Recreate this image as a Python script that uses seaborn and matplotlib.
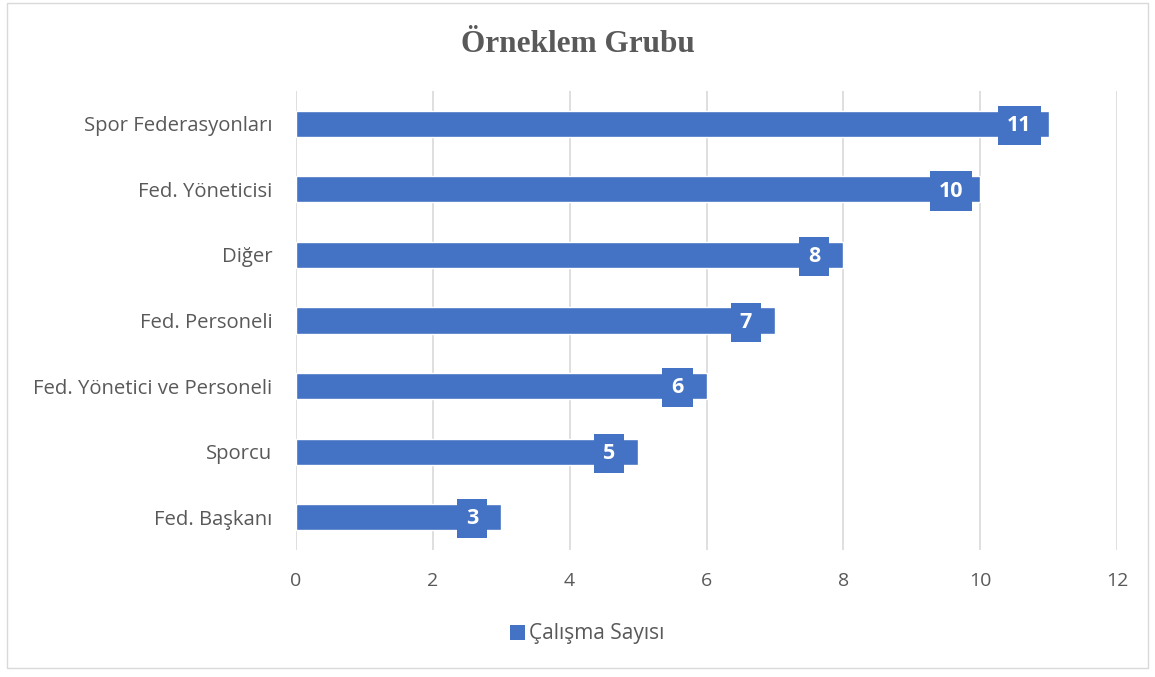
import matplotlib
matplotlib.use("Agg")
import matplotlib.pyplot as plt
import seaborn as sns
import pandas as pd
from matplotlib.patches import Patch, Rectangle

# Chart values
categories = ["Spor Federasyonları", "Fed. Yöneticisi", "Diğer", "Fed. Personeli",
              "Fed. Yönetici ve Personeli", "Sporcu", "Fed. Başkanı"]
counts = [11, 10, 8, 7, 6, 5, 3]
x_ticks = [0, 2, 4, 6, 8, 10, 12]

title = "Örneklem Grubu"
series_name = "Çalışma Sayısı"

BAR_COLOR = "#4472C4"
TEXT_GRAY = "#595959"
GRID_GRAY = "#D9D9D9"

sns.set_theme(style="white")
plt.rcParams["font.family"] = ["Open Sans", "DejaVu Sans"]

df = pd.DataFrame({"category": categories, "count": counts})

fig = plt.figure(figsize=(11.55, 6.77), dpi=100)
ax = fig.add_axes([0.2563, 0.1876, 0.9671 - 0.2563, 0.8656 - 0.1876])

sns.barplot(data=df, x="count", y="category", orient="h", color=BAR_COLOR,
            width=0.4, saturation=1, ax=ax, zorder=3)

ax.set_xlim(0, 12)
ax.set_ylim(len(categories) - 0.5, -0.5)
ax.set_xticks(x_ticks)
ax.set_xticklabels([str(t) for t in x_ticks])
ax.set_xlabel("")
ax.set_ylabel("")
for s in ax.spines.values():
    s.set_visible(False)
ax.xaxis.grid(True, color=GRID_GRAY, linewidth=1.2, zorder=0)
ax.yaxis.grid(False)
ax.tick_params(axis="y", length=0, pad=17, labelsize=14.6, labelcolor=TEXT_GRAY)
ax.tick_params(axis="x", length=0, pad=16, labelsize=14, labelcolor=TEXT_GRAY)

# Data labels in boxes at the bar ends
for i, v in enumerate(counts):
    ax.annotate(str(v), xy=(v, i), xytext=(-21, -1.2), textcoords="offset points",
                ha="center", va="center", color="white", fontsize=15.5,
                fontweight="bold", zorder=5,
                bbox=dict(boxstyle="square,pad=0.42", fc=BAR_COLOR, ec="none"))

fig.text(0.5, 1 - 45 / 677, title, ha="center", va="center",
         fontsize=22.5, fontweight="bold", color=TEXT_GRAY,
         family=["Liberation Serif", "DejaVu Serif"])

handles = [Patch(facecolor=BAR_COLOR, edgecolor="none", label=series_name)]
fig.legend(handles=handles, loc="center", bbox_to_anchor=(587 / 1155, 1 - 634 / 677),
           frameon=False, fontsize=15, handlelength=0.7, handleheight=0.7,
           handletextpad=0.2, labelcolor=TEXT_GRAY)

# Chart border
fig.patches.append(Rectangle((7 / 1155, 9 / 677), 1141 / 1155, 665 / 677,
                             transform=fig.transFigure, fill=False,
                             edgecolor="#D9D9D9", linewidth=1))

fig.savefig("out.png", dpi=100, facecolor="white")
